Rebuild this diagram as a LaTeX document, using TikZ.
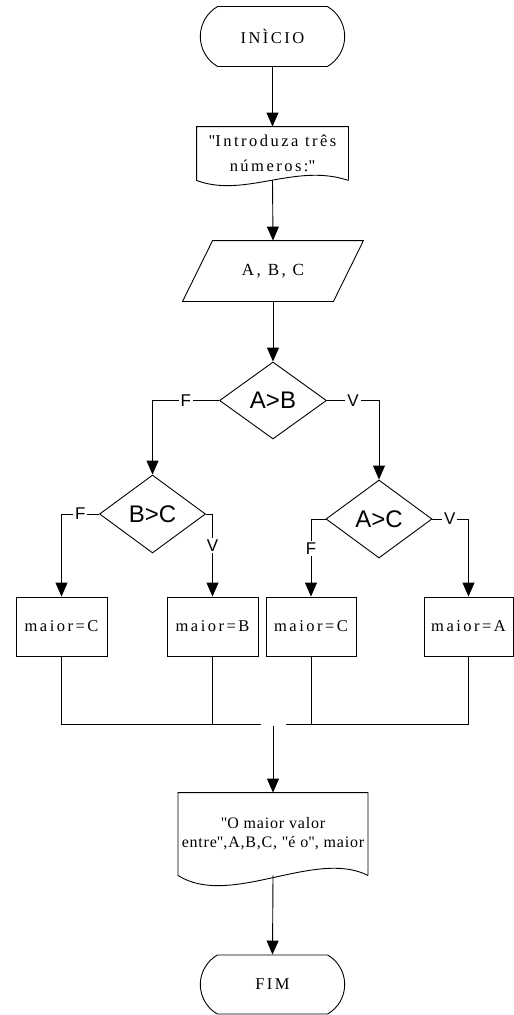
\documentclass[tikz,border=0pt]{standalone}
\usepackage{fontspec}
\setmainfont{Liberation Serif}[LetterSpace=15]
\setsansfont{Liberation Sans}
\usetikzlibrary{arrows.meta,shapes.misc,shapes.geometric}

\begin{document}
\begin{tikzpicture}[x=1pt,y=-1pt,line width=0.9pt,
  arr/.style={-{Triangle[width=12pt,length=14pt]}},
  term/.style={draw,rounded rectangle,rounded rectangle arc length=120,minimum width=151pt,minimum height=60pt,font=\fontsize{16.5}{20}\selectfont},
  box/.style={draw,minimum width=90pt,minimum height=59pt,inner sep=0pt,font=\fontsize{16.5}{20}\selectfont},
  cond/.style={draw,diamond,inner sep=0pt,minimum width=106pt,minimum height=78pt,font=\sffamily\fontsize{24}{26}\selectfont},
  lbl/.style={fill=white,inner sep=2pt,font=\sffamily\fontsize{17}{18}\selectfont}]
\useasboundingbox (0,0) rectangle (514,1015);

\node[term] (ini) at (272.5,36.5) {INÌCIO};
\node[minimum width=151pt,minimum height=53pt,align=center,font=\fontsize{16.5}{25}\selectfont] (msg) at (272.5,153.5) {\textquotedbl Introduza três\\números:\textquotedbl};
\draw (msg.south east) -- (msg.north east) -- (msg.north west) -- (msg.south west) .. controls +(48,18) and +(-53,-18) .. (msg.south east);
\node[minimum width=150pt,minimum height=60pt,font=\fontsize{17}{20}\selectfont] (io) at (273,271) {A, B, C};
\draw ([xshift=15pt]io.north west) -- ([xshift=15pt]io.north east) -- ([xshift=-15pt]io.south east) -- ([xshift=-15pt]io.south west) -- cycle;

\node[cond,minimum width=107pt,minimum height=77pt] (ab) at (273,400.5) {A>B};
\node[cond] (bc) at (152.5,514) {B>C};
\node[cond] (ac) at (379,519) {A>C};

\node[box,minimum width=91pt] (r1) at (61.5,626.5) {maior=C};
\node[box,minimum width=91pt] (r2) at (212.5,626.5) {maior=B};
\node[box] (r3) at (311,626.5) {maior=C};
\node[box,minimum width=89pt] (r4) at (468.5,626.5) {maior=A};

\node[minimum width=180pt,minimum height=82pt,align=center,font=\fontsize{16}{19}\selectfont\addfontfeatures{LetterSpace=5}] (out) at (273,834) {\textquotedbl O maior valor\\entre\textquotedbl,A,B,C, \textquotedbl é o\textquotedbl, maior};
\draw (out.south east) -- (out.north east) -- (out.north west) -- (out.south west) .. controls +(52,33) and +(-53,-27) .. (out.south east);
\node[term,minimum height=59pt] (fim) at (272.5,984.5) {FIM};

\draw[arr] (ini) -- (msg);
\draw[arr] (msg.south) -- (io.north);
\draw[arr] (io.south) -- (ab.north);
\draw[arr] (ab.west) -- node[lbl]{F} (ab.west -| bc.north) -- (bc.north);
\draw[arr] (ab.east) -- node[lbl]{V} (ab.east -| ac.north) -- (ac.north);
\draw[arr] (bc.west) -- node[lbl]{F} (bc.west -| r1.north) -- (r1.north);
\draw[arr] (bc.east) -| node[lbl,pos=0.69]{V} (r2.north);
\draw[arr] (ac.west) -| node[lbl,pos=0.69]{F} (r3.north);
\draw[arr] (ac.east) -| node[lbl,pos=0.24]{V} (r4.north);

\coordinate (jl) at (261,724);
\coordinate (jr) at (286,724);
\coordinate (jt) at (273,726);
\draw (r1.south) |- (jl);
\draw (r2.south) -- (r2.south |- jl);
\draw (r4.south) |- (jr);
\draw (r3.south) -- (r3.south |- jr);
\draw[arr] (jt) -- (out.north);
\draw[arr] (out.south) -- (fim.north);
\end{tikzpicture}
\end{document}
